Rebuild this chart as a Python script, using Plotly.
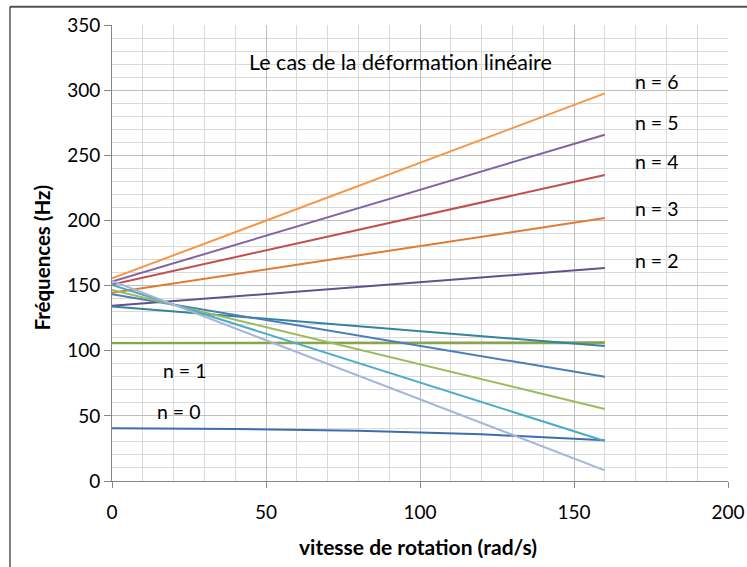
import plotly.graph_objects as go

# ---- data ----
x_ends = [0, 160]
n0_x = [0, 40, 80, 120, 160]
n0_y = [40.4, 40.0, 38.5, 35.8, 31.3]

series = [
    # (name, x, y, color)
    ("n=0", n0_x, n0_y, "#3C6EAD"),
    ("n=1 b", x_ends, [106.0, 106.5], "#948A54"),
    ("n=1 a", x_ends, [105.8, 105.8], "#86A94A"),
    ("n=2 a", x_ends, [134.5, 163.5], "#65508F"),
    ("n=2 b", x_ends, [134.0, 103.6], "#31859C"),
    ("n=3 a", x_ends, [144.5, 201.8], "#E07B33"),
    ("n=3 b", x_ends, [143.3, 80.0], "#4A7EBB"),
    ("n=4 a", x_ends, [150.8, 234.8], "#C0504D"),
    ("n=4 b", x_ends, [146.6, 55.3], "#9BBB59"),
    ("n=5 a", x_ends, [153.0, 265.8], "#8064A2"),
    ("n=5 b", x_ends, [150.4, 30.7], "#4BACC6"),
    ("n=6 a", x_ends, [155.5, 297.5], "#F79646"),
    ("n=6 b", x_ends, [153.5, 8.2], "#A5B6D8"),
]

labels = ["n = 0", "n = 1", "n = 2", "n = 3", "n = 4", "n = 5", "n = 6"]
label_x = [21.6, 23.7, 177, 177, 177, 177, 177]
label_y = [53, 85, 169.6, 209.5, 245, 275, 307]

title_text = "Le cas de la déformation linéaire"
x_title = "vitesse de rotation (rad/s)"
y_title = "Fréquences (Hz)"

FONT = "Lato"

fig = go.Figure()
for name, xs, ys, c in series:
    fig.add_trace(go.Scatter(x=xs, y=ys, mode="lines", name=name,
                             line=dict(color=c, width=2), showlegend=False,
                             hoverinfo="skip"))

for t, lx, ly in zip(labels, label_x, label_y):
    fig.add_annotation(x=lx, y=ly, text=t, showarrow=False,
                       font=dict(family=FONT, size=19.5, color="#000000"),
                       xanchor="center", yanchor="middle")

fig.add_annotation(x=93.8, y=321.5, text=title_text, showarrow=False,
                   font=dict(family=FONT, size=21.5, color="#000000"),
                   xanchor="center", yanchor="middle")

# axis titles as annotations for exact placement
fig.add_annotation(xref="paper", yref="paper", x=0.497, y=-0.1447,
                   text="<b>" + x_title + "</b>", showarrow=False,
                   font=dict(family=FONT, size=21, color="#000000"),
                   xanchor="center", yanchor="middle")
fig.add_annotation(xref="paper", yref="paper", x=-0.1136, y=0.49,
                   text="<b>" + y_title + "</b>", showarrow=False, textangle=-90,
                   font=dict(family=FONT, size=20.5, color="#000000"),
                   xanchor="center", yanchor="middle")

fig.update_layout(
    width=747, height=567,
    margin=dict(l=112, r=19, t=25, b=86, autoexpand=False),
    paper_bgcolor="white", plot_bgcolor="white",
    font=dict(family=FONT, size=18, color="#000000"),
    xaxis=dict(range=[0, 200], dtick=50, tick0=0, automargin=False,
               showgrid=True, gridcolor="#BFBFBF", gridwidth=1,
               minor=dict(dtick=10, showgrid=True, gridcolor="#D9D9D9", gridwidth=1),
               showline=True, linecolor="#868686", linewidth=1,
               ticks="outside", ticklen=6, tickcolor="#868686",
               ticklabelstandoff=8,
               zeroline=False, fixedrange=True,
               tickfont=dict(family=FONT, size=19)),
    yaxis=dict(range=[0, 350], dtick=50, tick0=0, automargin=False,
               showgrid=True, gridcolor="#BFBFBF", gridwidth=1,
               minor=dict(dtick=10, showgrid=True, gridcolor="#D9D9D9", gridwidth=1),
               showline=True, linecolor="#868686", linewidth=1,
               ticks="outside", ticklen=7, tickcolor="#868686",
               zeroline=False, fixedrange=True,
               tickfont=dict(family=FONT, size=19)),
)

# outer frame lines (chart border)
fig.add_shape(type="line", xref="paper", yref="paper",
              x0=-0.1656, x1=1.05, y0=1.04, y1=1.04,
              line=dict(color="#555555", width=2))
fig.add_shape(type="line", xref="paper", yref="paper",
              x0=-0.1656, x1=-0.1656, y0=1.04, y1=-0.2,
              line=dict(color="#000000", width=1))

fig.write_html("out.html",
               config={"displayModeBar": False},
               post_script="document.body.style.margin='0px';document.body.style.overflow='hidden';")
